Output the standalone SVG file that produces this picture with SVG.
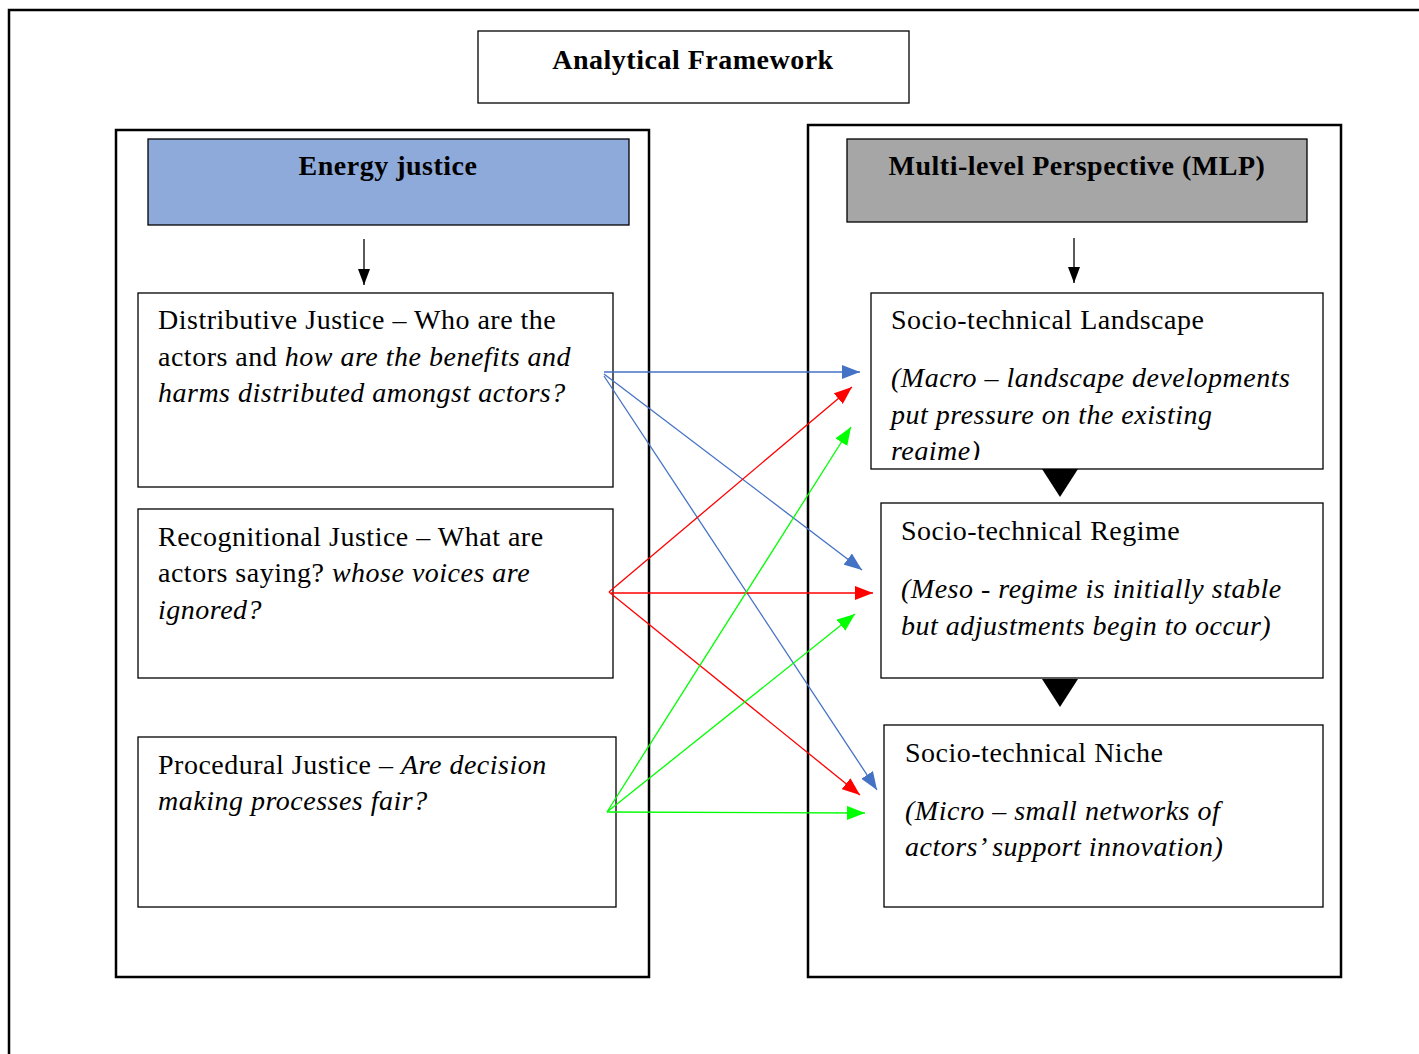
<svg xmlns="http://www.w3.org/2000/svg" width="1419" height="1054" viewBox="0 0 1419 1054">
<style>
text{font-family:"Liberation Serif","Times New Roman",serif;font-size:28px;letter-spacing:0.5px;fill:#000}
.b{font-weight:bold}
.i{font-style:italic}
.box{fill:#fff;stroke:#000;stroke-width:1.3}
.cont{fill:none;stroke:#000;stroke-width:2.5}
.blue{stroke:#4472C4;stroke-width:1.3;fill:none}
.red{stroke:#FF0000;stroke-width:1.3;fill:none}
.green{stroke:#00FF00;stroke-width:1.3;fill:none}
</style>
<defs>
<marker id="mb" viewBox="0 0 18 14" refX="18" refY="7" markerWidth="18" markerHeight="14" markerUnits="userSpaceOnUse" orient="auto"><path d="M0,0 L18,7 L0,14 Z" fill="#4472C4"/></marker>
<marker id="mr" viewBox="0 0 18 14" refX="18" refY="7" markerWidth="18" markerHeight="14" markerUnits="userSpaceOnUse" orient="auto"><path d="M0,0 L18,7 L0,14 Z" fill="#FF0000"/></marker>
<marker id="mg" viewBox="0 0 18 14" refX="18" refY="7" markerWidth="18" markerHeight="14" markerUnits="userSpaceOnUse" orient="auto"><path d="M0,0 L18,7 L0,14 Z" fill="#00FF00"/></marker>
<marker id="mk" viewBox="0 0 16 12" refX="16" refY="6" markerWidth="16" markerHeight="12" markerUnits="userSpaceOnUse" orient="auto"><path d="M0,0 L16,6 L0,12 Z" fill="#000"/></marker>
<clipPath id="clipL"><rect x="871" y="293" width="452" height="167"/></clipPath>
</defs>
<rect x="0" y="0" width="1419" height="1054" fill="#fff"/>
<path d="M9,1060 L9,10 L1425,10" fill="none" stroke="#000" stroke-width="2.5"/>

<g id="title">
<rect class="box" x="478" y="31" width="431" height="72"/>
<text class="b" x="693" y="69" text-anchor="middle">Analytical Framework</text>
</g>

<g id="left-container"><rect class="cont" x="116" y="130" width="533" height="847"/></g>
<g id="right-container"><rect class="cont" x="808" y="125" width="533" height="852"/></g>

<g id="energy-justice">
<rect x="148" y="139" width="481" height="86" fill="#8EAADB" stroke="#000" stroke-width="1.3"/>
<text class="b" x="388" y="175" text-anchor="middle">Energy justice</text>
</g>

<g id="mlp">
<rect x="847" y="139" width="460" height="83" fill="#A6A6A6" stroke="#000" stroke-width="1.3"/>
<text class="b" x="1077" y="175" text-anchor="middle">Multi-level Perspective (MLP)</text>
</g>

<g id="distributive">
<rect class="box" x="138" y="293" width="475" height="194"/>
<text x="158" y="329">Distributive Justice – Who are the</text>
<text x="158" y="366">actors and <tspan class="i">how are the benefits and</tspan></text>
<text class="i" x="158" y="402">harms distributed amongst actors?</text>
</g>

<g id="recognitional">
<rect class="box" x="138" y="509" width="475" height="169"/>
<text x="158" y="546">Recognitional Justice – What are</text>
<text x="158" y="582">actors saying? <tspan class="i">whose voices are</tspan></text>
<text class="i" x="158" y="619">ignored?</text>
</g>

<g id="procedural">
<rect class="box" x="138" y="737" width="478" height="170"/>
<text x="158" y="774">Procedural Justice – <tspan class="i">Are decision</tspan></text>
<text class="i" x="158" y="810">making processes fair?</text>
</g>

<g id="landscape">
<rect class="box" x="871" y="293" width="452" height="176"/>
<g clip-path="url(#clipL)">
<text x="891" y="329">Socio-technical Landscape</text>
<text class="i" x="891" y="387">(Macro – landscape developments</text>
<text class="i" x="891" y="424">put pressure on the existing</text>
<text class="i" x="891" y="460">regime)</text>
</g>
</g>

<g id="regime">
<rect class="box" x="881" y="503" width="442" height="175"/>
<text x="901" y="540">Socio-technical Regime</text>
<text class="i" x="901" y="598">(Meso - regime is initially stable</text>
<text class="i" x="901" y="635">but adjustments begin to occur)</text>
</g>

<g id="niche">
<rect class="box" x="884" y="725" width="439" height="182"/>
<text x="905" y="762">Socio-technical Niche</text>
<text class="i" x="905" y="820">(Micro – small networks of</text>
<text class="i" x="905" y="856">actors’ support innovation)</text>
</g>

<g id="connectors">
<line x1="364" y1="239" x2="364" y2="285" stroke="#000" stroke-width="1.3" marker-end="url(#mk)"/>
<line x1="1074" y1="238" x2="1074" y2="283" stroke="#000" stroke-width="1.3" marker-end="url(#mk)"/>
<path d="M1042,469 L1078,469 L1060,497 Z" fill="#000"/>
<path d="M1042,679 L1078,679 L1060,707 Z" fill="#000"/>

<line class="blue" x1="604" y1="372" x2="860" y2="372" marker-end="url(#mb)"/>
<line class="blue" x1="604" y1="374" x2="862" y2="570" marker-end="url(#mb)"/>
<line class="blue" x1="604" y1="376" x2="877" y2="790" marker-end="url(#mb)"/>

<line class="red" x1="609" y1="592" x2="852" y2="387" marker-end="url(#mr)"/>
<line class="red" x1="611" y1="593" x2="873" y2="593" marker-end="url(#mr)"/>
<line class="red" x1="609" y1="592" x2="860" y2="795" marker-end="url(#mr)"/>

<line class="green" x1="607" y1="812" x2="851" y2="427" marker-end="url(#mg)"/>
<line class="green" x1="607" y1="812" x2="855" y2="614" marker-end="url(#mg)"/>
<line class="green" x1="607" y1="812" x2="865" y2="813" marker-end="url(#mg)"/>
</g>
</svg>
